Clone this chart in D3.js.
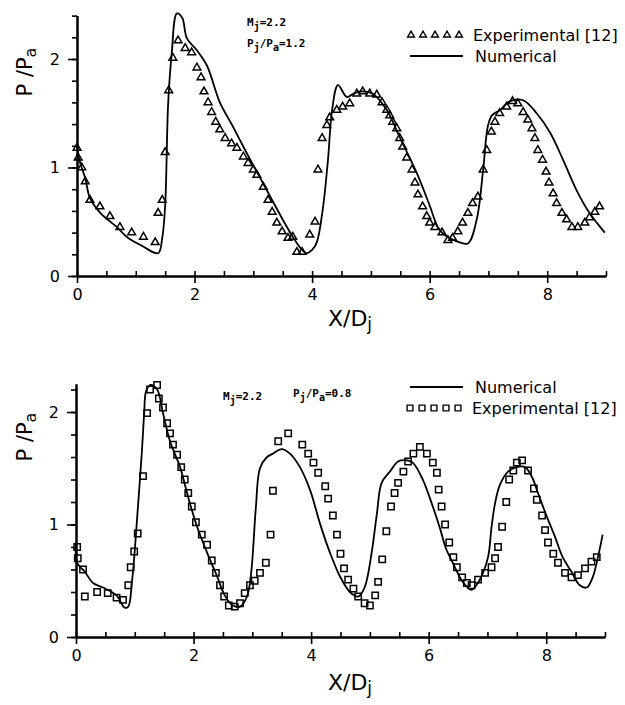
<!DOCTYPE html>
<html>
<head>
<meta charset="utf-8">
<script src="https://cdn.jsdelivr.net/npm/d3@7"></script>
<style>
  body { margin: 0; background: #fff; }
  svg { display: block; font-family: "DejaVu Sans", sans-serif; }
</style>
</head>
<body>
<svg id="chart" width="625" height="705"></svg>
<script>
// ticks
const xTicksMajor = [0, 2, 4, 6, 8]
const xTicksMinor = [0, 0.5, 1, 1.5, 2, 2.5, 3, 3.5, 4, 4.5, 5, 5.5, 6, 6.5, 7, 7.5, 8, 8.5, 9]
const yTicksMajor = [0, 1, 2]
const yTicksMinorTop = [0, 0.2, 0.4, 0.6, 0.8, 1, 1.2, 1.4, 1.6, 1.8, 2, 2.2, 2.4]
const yTicksMinorBottom = [0, 0.2, 0.4, 0.6, 0.8, 1, 1.2, 1.4, 1.6, 1.8, 2, 2.2]

// Pj/Pa = 1.2  (x/Dj, p/pa)
const topNumerical = [
  [0, 1.19], [0.05, 1.05], [0.14, 0.9], [0.22, 0.72], [0.4, 0.58], [0.68, 0.45], [0.87, 0.35],
  [1.1, 0.28], [1.38, 0.21], [1.45, 0.35], [1.5, 0.65], [1.55, 1.58], [1.61, 2.04], [1.70, 2.42],
  [1.79, 2.38], [1.87, 2.19], [2.04, 2.08], [2.21, 1.94], [2.43, 1.6], [2.65, 1.38], [2.9, 1.12],
  [3.1, 0.92], [3.3, 0.72], [3.5, 0.52], [3.65, 0.38], [3.8, 0.26], [3.9, 0.21], [4.0, 0.24],
  [4.08, 0.31], [4.18, 0.61], [4.27, 1.07], [4.34, 1.53], [4.44, 1.76], [4.59, 1.65], [4.7, 1.68],
  [4.81, 1.70], [5.03, 1.68], [5.27, 1.53], [5.49, 1.28], [5.78, 0.95], [6.0, 0.65], [6.14, 0.45],
  [6.25, 0.38], [6.46, 0.32], [6.65, 0.30], [6.80, 0.52], [6.91, 0.98], [6.99, 1.38], [7.06, 1.48],
  [7.2, 1.53], [7.36, 1.61], [7.59, 1.62], [7.82, 1.50], [8.05, 1.32], [8.27, 1.07], [8.5, 0.79],
  [8.72, 0.58], [8.98, 0.40]
]
const topExperimental = [
  [0.0, 1.18], [0.02, 1.09], [0.08, 1.0], [0.14, 0.87], [0.22, 0.70], [0.39, 0.64], [0.56, 0.55],
  [0.73, 0.45], [0.93, 0.40], [1.13, 0.36], [1.33, 0.31], [1.38, 0.58], [1.45, 0.70], [1.5, 1.14],
  [1.56, 1.71], [1.63, 2.01], [1.72, 2.17], [1.84, 2.10], [1.95, 2.06], [2.04, 1.92], [2.11, 1.83],
  [2.16, 1.70], [2.23, 1.60], [2.29, 1.51], [2.36, 1.42], [2.43, 1.35], [2.52, 1.27], [2.63, 1.22],
  [2.72, 1.18], [2.83, 1.10], [2.91, 1.04], [3.0, 0.98], [3.06, 0.93], [3.17, 0.82], [3.25, 0.70],
  [3.32, 0.59], [3.40, 0.49], [3.49, 0.41], [3.59, 0.35], [3.67, 0.36], [3.74, 0.22], [3.83, 0.22],
  [3.96, 0.38], [4.05, 0.50], [4.1, 0.98], [4.17, 1.27], [4.25, 1.39], [4.30, 1.46], [4.42, 1.53],
  [4.52, 1.56], [4.64, 1.59], [4.76, 1.68], [4.86, 1.70], [4.98, 1.68], [5.10, 1.67], [5.19, 1.60],
  [5.27, 1.53], [5.32, 1.48], [5.37, 1.42], [5.44, 1.36], [5.49, 1.27], [5.54, 1.19], [5.61, 1.09],
  [5.70, 0.98], [5.75, 0.86], [5.80, 0.75], [5.88, 0.64], [5.95, 0.55], [6.0, 0.49], [6.09, 0.45],
  [6.21, 0.40], [6.31, 0.33], [6.39, 0.35], [6.48, 0.41], [6.56, 0.49], [6.65, 0.58], [6.73, 0.67],
  [6.82, 0.73], [6.91, 0.98], [6.97, 1.16], [7.05, 1.33], [7.11, 1.42], [7.19, 1.50], [7.31, 1.56],
  [7.41, 1.61], [7.5, 1.59], [7.59, 1.51], [7.67, 1.44], [7.74, 1.36], [7.79, 1.27], [7.84, 1.16],
  [7.92, 1.07], [7.98, 0.96], [8.03, 0.86], [8.1, 0.76], [8.16, 0.67], [8.25, 0.58], [8.33, 0.52],
  [8.42, 0.45], [8.52, 0.45], [8.64, 0.49], [8.72, 0.54], [8.81, 0.59], [8.89, 0.64]
]

// Pj/Pa = 0.8
const bottomNumerical = [
  [0, 0.84], [0.02, 0.66], [0.15, 0.58], [0.29, 0.48], [0.46, 0.44], [0.69, 0.37], [0.83, 0.26],
  [0.89, 0.27], [0.95, 0.48], [1.0, 0.77], [1.05, 1.13], [1.12, 1.64], [1.16, 1.99], [1.19, 2.18],
  [1.26, 2.24], [1.38, 2.2], [1.48, 1.99], [1.6, 1.74], [1.77, 1.51], [1.91, 1.24], [2.06, 0.98],
  [2.23, 0.75], [2.40, 0.54], [2.53, 0.37], [2.67, 0.28], [2.79, 0.27], [2.91, 0.36], [2.98, 0.57],
  [3.06, 1.15], [3.13, 1.5], [3.25, 1.60], [3.35, 1.63], [3.50, 1.67], [3.64, 1.63], [3.81, 1.51],
  [3.98, 1.31], [4.15, 1.01], [4.32, 0.75], [4.49, 0.54], [4.66, 0.40], [4.80, 0.36], [4.91, 0.44],
  [5.03, 0.75], [5.12, 1.10], [5.2, 1.37], [5.34, 1.47], [5.48, 1.56], [5.63, 1.57], [5.73, 1.55],
  [5.90, 1.40], [6.07, 1.16], [6.19, 0.97], [6.3, 0.78], [6.41, 0.66], [6.58, 0.49], [6.73, 0.42],
  [6.87, 0.51], [7.01, 0.71], [7.07, 0.98], [7.13, 1.19], [7.21, 1.35], [7.35, 1.47], [7.50, 1.51],
  [7.64, 1.51], [7.76, 1.42], [7.86, 1.28], [8.01, 1.07], [8.15, 0.89], [8.28, 0.71], [8.43, 0.58],
  [8.57, 0.46], [8.69, 0.44], [8.79, 0.53], [8.88, 0.71], [8.96, 0.91]
]
const bottomExperimental = [
  [0.02, 0.8], [0.03, 0.70], [0.12, 0.6], [0.15, 0.36], [0.36, 0.40], [0.54, 0.39], [0.69, 0.35],
  [0.8, 0.33], [0.89, 0.46], [0.93, 0.62], [0.99, 0.76], [1.05, 0.92], [1.14, 1.43], [1.21, 1.99],
  [1.26, 2.2], [1.38, 2.24], [1.41, 2.12], [1.48, 2.04], [1.55, 1.90], [1.6, 1.81], [1.65, 1.71],
  [1.72, 1.62], [1.79, 1.51], [1.85, 1.40], [1.91, 1.28], [1.97, 1.16], [2.04, 1.02], [2.14, 0.91],
  [2.23, 0.82], [2.31, 0.68], [2.38, 0.57], [2.45, 0.46], [2.52, 0.36], [2.60, 0.28], [2.70, 0.27],
  [2.79, 0.30], [2.87, 0.39], [2.96, 0.46], [3.04, 0.50], [3.13, 0.57], [3.23, 0.66], [3.31, 0.91],
  [3.35, 1.30], [3.44, 1.74], [3.61, 1.81], [3.85, 1.71], [3.95, 1.63], [4.04, 1.55], [4.12, 1.46],
  [4.24, 1.34], [4.29, 1.23], [4.37, 1.08], [4.44, 0.91], [4.50, 0.74], [4.56, 0.61], [4.63, 0.51],
  [4.72, 0.43], [4.80, 0.36], [4.91, 0.30], [5.0, 0.28], [5.09, 0.37], [5.14, 0.49], [5.21, 0.69],
  [5.28, 0.94], [5.36, 1.16], [5.42, 1.28], [5.48, 1.37], [5.57, 1.47], [5.65, 1.56], [5.74, 1.63],
  [5.85, 1.69], [5.97, 1.63], [6.07, 1.55], [6.14, 1.46], [6.17, 1.31], [6.22, 1.16], [6.28, 1.0],
  [6.35, 0.84], [6.42, 0.71], [6.48, 0.62], [6.57, 0.53], [6.65, 0.48], [6.73, 0.46], [6.84, 0.51],
  [6.96, 0.57], [7.07, 0.62], [7.13, 0.70], [7.18, 0.80], [7.25, 0.98], [7.32, 1.20], [7.37, 1.40],
  [7.44, 1.48], [7.50, 1.55], [7.59, 1.57], [7.69, 1.48], [7.79, 1.32], [7.84, 1.22], [7.93, 1.08],
  [7.98, 0.95], [8.03, 0.84], [8.12, 0.74], [8.2, 0.66], [8.32, 0.57], [8.43, 0.53], [8.54, 0.55],
  [8.66, 0.61], [8.77, 0.67], [8.86, 0.71]
]

const svg = d3.select('#chart')
svg.append('rect').attr('width', 625).attr('height', 705).attr('fill', '#fff')

const triangle = d3.symbol().type(d3.symbolTriangle).size(26)
const square = d3.symbol().type(d3.symbolSquare).size(40)

function drawPanel(cfg) {
  const g = svg.append('g')
  const x = d3.scaleLinear().domain([0, 9]).range(cfg.xRange)
  const y = d3.scaleLinear().domain([0, cfg.yTop]).range(cfg.yRange)

  // x axis: small inward ticks, labelled ticks out
  const xa = g.append('g').attr('transform', `translate(0,${y(0)})`)
  xa.append('g').call(d3.axisBottom(x).tickValues(xTicksMinor).tickSize(-5).tickSizeOuter(0).tickFormat(''))
  xa.append('g').call(d3.axisBottom(x).tickValues(xTicksMajor).tickSize(7).tickSizeOuter(0).tickPadding(6).tickFormat(d3.format('d')))

  const ya = g.append('g').attr('transform', `translate(${x(0)},0)`)
  ya.append('g').call(d3.axisLeft(y).tickValues(cfg.yMinor).tickSize(5).tickSizeOuter(0).tickFormat(''))
  ya.append('g').call(d3.axisLeft(y).tickValues(yTicksMajor).tickSize(9).tickSizeOuter(0).tickPadding(8).tickFormat(d3.format('d')))

  g.selectAll('.domain').attr('stroke', '#000').attr('stroke-width', 2)
  g.selectAll('.tick line').attr('stroke', '#000').attr('stroke-width', 1.6)
  g.selectAll('.tick text').attr('fill', '#000').attr('font-size', 16).attr('font-family', '"DejaVu Sans", sans-serif')

  const line = d3.line().x(d => x(d[0])).y(d => y(d[1])).curve(d3.curveCatmullRom.alpha(0.5))
  g.append('path').datum(cfg.numerical)
    .attr('d', line).attr('fill', 'none').attr('stroke', '#000').attr('stroke-width', 1.8)

  g.append('g').selectAll('path').data(cfg.experimental).join('path')
    .attr('d', cfg.symbol)
    .attr('transform', d => `translate(${x(d[0])},${y(d[1])})`)
    .attr('fill', 'none').attr('stroke', '#000').attr('stroke-width', 1.5)

  // axis titles
  const xt = g.append('text').attr('x', 350).attr('y', cfg.xTitleY)
    .attr('text-anchor', 'middle').attr('font-size', 22).attr('fill', '#000')
  xt.append('tspan').text('X/D')
  xt.append('tspan').attr('baseline-shift', '-25%').attr('font-size', 17).text('j')

  const yt = g.append('text').attr('transform', `translate(32,${cfg.yTitleY}) rotate(-90)`)
    .attr('text-anchor', 'middle').attr('font-size', 21).attr('fill', '#000')
  yt.append('tspan').text('P  /P')
  yt.append('tspan').attr('baseline-shift', '-25%').attr('font-size', 16).text('a')

  return { g, x, y }
}

function mono(g, px, py, parts) {
  const t = g.append('text').attr('x', px).attr('y', py)
    .attr('font-family', '"DejaVu Sans Mono", monospace').attr('font-weight', 'bold')
    .attr('font-size', 11).attr('fill', '#000')
  parts.forEach(p => {
    const s = t.append('tspan').text(p[0])
    if (p[1]) s.attr('baseline-shift', '-35%').attr('font-size', 10)
  })
}

function legend(g, px, py, kind, label) {
  if (kind === 'line') {
    g.append('line').attr('x1', px).attr('x2', px + 53).attr('y1', py).attr('y2', py)
      .attr('stroke', '#000').attr('stroke-width', 1.8)
  } else {
    const sym = kind === 'tri' ? d3.symbol().type(d3.symbolTriangle).size(20) : d3.symbol().type(d3.symbolSquare).size(34)
    g.append('g').selectAll('path').data([0, 1, 2, 3, 4]).join('path')
      .attr('d', sym)
      .attr('transform', i => `translate(${px + 3 + i * 12},${py})`)
      .attr('fill', 'none').attr('stroke', '#000').attr('stroke-width', 1.4)
  }
  g.append('text').attr('x', px + 65).attr('y', py).attr('dy', '0.35em')
    .attr('font-size', 16).attr('fill', '#000').text(label)
}

const topPanel = drawPanel({
  xRange: [77, 606], yRange: [276, 15.6], yTop: 2.4, yMinor: yTicksMinorTop,
  numerical: topNumerical, experimental: topExperimental, symbol: triangle,
  xTitleY: 326, yTitleY: 72
})
mono(topPanel.g, 247, 26, [['M'], ['j', 1], ['=2.2']])
mono(topPanel.g, 247, 47, [['P'], ['j', 1], ['/P'], ['a', 1], ['=1.2']])
legend(topPanel.g, 408, 35, 'tri', 'Experimental [12]')
legend(topPanel.g, 410, 56, 'line', 'Numerical')

const bottomPanel = drawPanel({
  xRange: [76, 605], yRange: [637, 383.9], yTop: 2.25, yMinor: yTicksMinorBottom,
  numerical: bottomNumerical, experimental: bottomExperimental, symbol: square,
  xTitleY: 690, yTitleY: 437
})
mono(bottomPanel.g, 223, 400, [['M'], ['j', 1], ['=2.2']])
mono(bottomPanel.g, 293, 397, [['P'], ['j', 1], ['/P'], ['a', 1], ['=0.8']])
legend(bottomPanel.g, 410, 387, 'line', 'Numerical')
legend(bottomPanel.g, 407, 408, 'sq', 'Experimental [12]')
</script>
</body>
</html>
